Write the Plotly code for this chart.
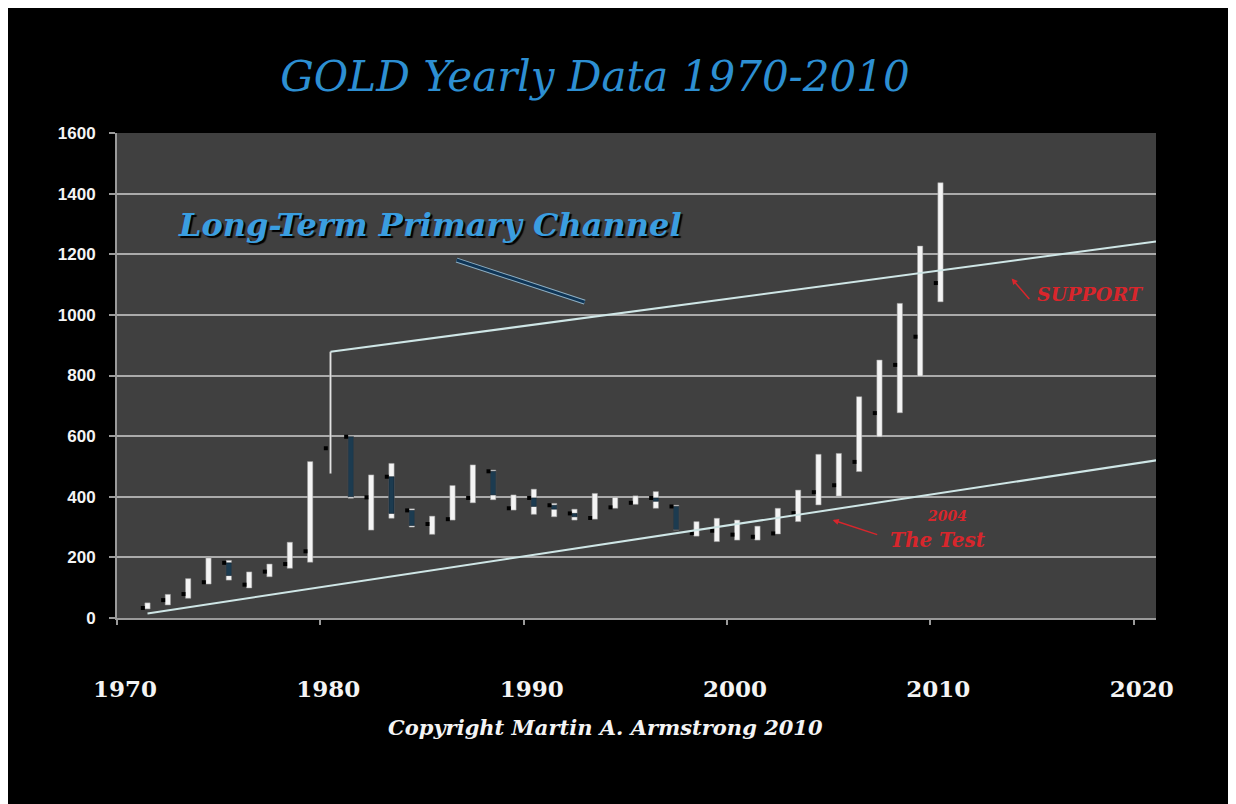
import plotly.graph_objects as go

# ---------------- data ----------------
years = list(range(1971, 2011))
low_vals = [30, 43, 65, 112, 125, 99, 136, 164, 184, 477,
            395, 290, 329, 300, 276, 323, 380, 390, 356, 342,
            334, 323, 326, 362, 375, 362, 290, 270, 252, 257,
            257, 277, 318, 373, 402, 483, 598, 677, 798, 1043]
high_vals = [50, 78, 130, 198, 190, 152, 178, 250, 516, 878,
             600, 472, 510, 360, 336, 437, 505, 488, 406, 425,
             378, 359, 411, 398, 403, 417, 372, 318, 329, 323,
             303, 362, 422, 540, 543, 730, 851, 1038, 1227, 1436]
open_vals = [33, 59, 79, 118, 182, 110, 153, 178, 220, 560,
             598, 398, 466, 355, 310, 326, 396, 484, 362, 396,
             372, 345, 330, 365, 380, 396, 368, 280, 288, 275,
             268, 279, 346, 415, 438, 515, 676, 835, 928, 1105]
close_vals = [48, 76, 125, 192, 140, 140, 168, 240, 505, 590,
              400, 445, 345, 305, 328, 390, 486, 406, 400, 368,
              359, 334, 390, 385, 390, 385, 292, 290, 300, 300,
              290, 345, 415, 440, 515, 635, 835, 870, 1100, 1420]

upper_channel_end = (2021.1, 1242)
lower_channel = {"x": [1971.5, 2021.2], "y": [15, 521]}

x_ticks = [1970, 1980, 1990, 2000, 2010, 2020]
y_ticks = [0, 200, 400, 600, 800, 1000, 1200, 1400, 1600]

# ---------------- figure ----------------
xs = [y + 0.5 for y in years]
widths = [0.08 if y == 1980 else 0.26 for y in years]

fig = go.Figure()

# high-low range bars (white)
fig.add_trace(go.Bar(
    x=xs, y=[h - l for h, l in zip(high_vals, low_vals)], base=low_vals,
    width=widths, marker=dict(color="#f4f4f4", line=dict(color="#9a9a9a", width=0.5)),
    hoverinfo="skip", showlegend=False))

# down-year bodies (dark)
dx, dbase, dh = [], [], []
for x, o, c in zip(xs, open_vals, close_vals):
    if c < o:
        dx.append(x); dbase.append(c); dh.append(o - c)
fig.add_trace(go.Bar(
    x=dx, y=dh, base=dbase, width=0.26,
    marker=dict(color="#1c3b50", line=dict(color="#0d1a24", width=0.6)),
    hoverinfo="skip", showlegend=False))

# open ticks (black)
fig.add_trace(go.Scatter(
    x=[x - 0.23 for x in xs], y=open_vals, mode="markers",
    marker=dict(symbol="square", size=4, color="#000000"),
    hoverinfo="skip", showlegend=False))

# channel lines
i80 = years.index(1980)
fig.add_trace(go.Scatter(
    x=[xs[i80], upper_channel_end[0]], y=[high_vals[i80], upper_channel_end[1]],
    mode="lines", line=dict(color="#cfe6e6", width=2), hoverinfo="skip", showlegend=False))
fig.add_trace(go.Scatter(
    x=lower_channel["x"], y=lower_channel["y"],
    mode="lines", line=dict(color="#cfe6e6", width=2), hoverinfo="skip", showlegend=False))

# pointer line from the channel label
fig.add_shape(type="line", x0=1986.7, y0=1181, x1=1993.0, y1=1042,
              line=dict(color="#8fb0c4", width=5), layer="above")
fig.add_shape(type="line", x0=1986.7, y0=1181, x1=1993.0, y1=1042,
              line=dict(color="#0f3556", width=3), layer="above")

serif = "DejaVu Serif"
red = "#d8262c"

annotations = [
    dict(x=1985.4, y=1297, text="<b><i>Long-Term Primary Channel</i></b>", showarrow=False,
         font=dict(family=serif, size=32, color="#3a9ee0", shadow="2px 2px 1px #000000")),
    dict(x=2017.9, y=1070, text="<b><i>SUPPORT</i></b>", showarrow=False,
         font=dict(family=serif, size=19, color=red)),
    dict(x=2014.0, y=1120, ax=19, ay=22, text="", showarrow=True, arrowhead=2,
         arrowsize=0.8, arrowwidth=1.5, arrowcolor=red),
    dict(x=2010.8, y=335, text="<b><i>2004</i></b>", showarrow=False,
         font=dict(family=serif, size=14, color=red)),
    dict(x=2010.4, y=258, text="<b><i>The Test</i></b>", showarrow=False,
         font=dict(family=serif, size=20, color=red)),
    dict(x=2005.2, y=323, ax=46, ay=15, text="", showarrow=True, arrowhead=2,
         arrowsize=0.8, arrowwidth=1.5, arrowcolor=red),
    dict(xref="paper", yref="paper", x=0.4706, y=-0.2557,
         text="<b><i>Copyright Martin A. Armstrong 2010</i></b>",
         showarrow=False, font=dict(family=serif, size=21, color="#f4f4f4")),
]

fig.update_layout(
    width=1228, height=796,
    margin=dict(l=109, r=80, t=125, b=186),
    paper_bgcolor="#000000", plot_bgcolor="#404040",
    barmode="overlay", showlegend=False,
    title=dict(text="<i>GOLD Yearly Data 1970-2010</i>", x=587 / 1228, xanchor="center",
               y=1 - 68 / 796, yanchor="middle",
               font=dict(family=serif, size=42, color="#2d8fd2")),
    annotations=annotations,
    xaxis=dict(range=[1970, 2021.1], tickvals=x_ticks, ticktext=[str(v) for v in x_ticks],
               showgrid=False, zeroline=False, showline=True, linecolor="#9a9a9a", linewidth=2,
               ticks="outside", ticklen=5, tickcolor="#9a9a9a", tickwidth=2,
               ticklabelstandoff=44, ticklabelshift=8,
               tickfont=dict(family=serif, size=23, color="#f4f4f4", weight="bold")),
    yaxis=dict(range=[0, 1600], tickvals=y_ticks, showgrid=True, gridcolor="#ababab", gridwidth=1.6,
               zeroline=False, showline=True, linecolor="#9a9a9a", linewidth=2,
               ticks="outside", ticklen=6, tickcolor="#9a9a9a", tickwidth=2,
               ticklabelstandoff=10,
               tickfont=dict(family="Liberation Sans", size=17, color="#f4f4f4", weight="bold")),
)

fig.write_html("out.html")
